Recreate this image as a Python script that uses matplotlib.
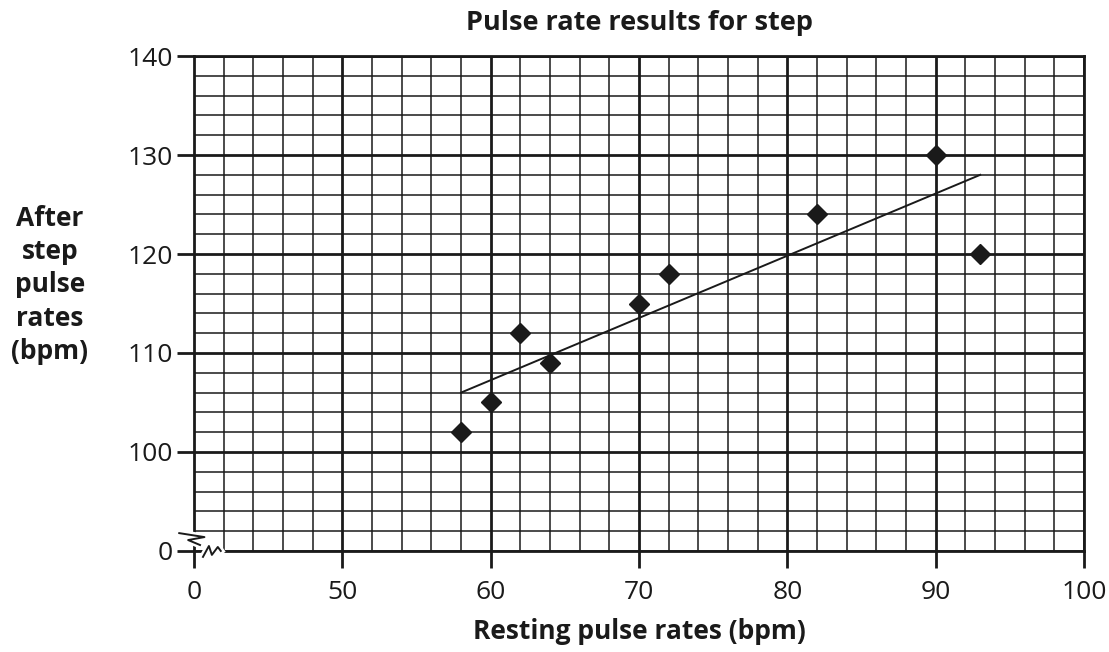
import numpy as np
import matplotlib
matplotlib.use("Agg")
import matplotlib.pyplot as plt

plt.rcParams["font.family"] = ["Open Sans", "DejaVu Sans"]

# data
resting = [58, 60, 62, 64, 70, 72, 82, 90, 93]
after_step = [102, 105, 112, 109, 115, 118, 124, 130, 120]
fit_x = [58, 93]
fit_y = [106, 128]

x_ticks = [0, 50, 60, 70, 80, 90, 100]
y_ticks = [0, 100, 110, 120, 130, 140]


# broken axes: 0-50 squeezed into one cell on x, 0-100 into one cell on y
def tx(x):
    x = np.asarray(x, dtype=float)
    return np.where(x >= 50, x, 40 + x / 5)


def ty(y):
    y = np.asarray(y, dtype=float)
    return np.where(y >= 100, y, 90 + y / 10)


fig = plt.figure(figsize=(11.09, 6.52), dpi=100)
ax = fig.add_axes([0.175, 0.155, 0.8025, 0.759])
ax.set_xlim(40, 100)
ax.set_ylim(90, 140)

# graph paper
ink = "#1a1a1a"
for v in np.arange(40, 100.1, 2):
    major = v >= 50 and v % 10 == 0
    ax.axvline(v, color=ink, lw=2.0 if major else 1.1, zorder=1)
for v in np.arange(90, 140.1, 2):
    major = v >= 100 and v % 10 == 0
    ax.axhline(v, color=ink, lw=2.0 if major else 1.1, zorder=1)

for s in ax.spines.values():
    s.set_linewidth(2.0)
    s.set_color(ink)

ax.set_xticks(tx(x_ticks))
ax.set_xticklabels([str(t) for t in x_ticks])
ax.set_yticks(ty(y_ticks))
ax.set_yticklabels([str(t) for t in y_ticks])
ax.tick_params(axis="both", length=12, width=2.0, color=ink, labelsize=19,
               labelcolor=ink, pad=3)
ax.tick_params(axis="x", pad=9)

# line of best fit and points
ax.plot(tx(fit_x), ty(fit_y), color=ink, lw=1.4, zorder=3)
ax.plot(tx(resting), ty(after_step), linestyle="none", marker="D",
        markersize=10, color=ink, zorder=4)

# axis break zigzags
zy_x = np.array([39.0, 40.7, 39.6, 40.4])
zy_y = np.array([91.8, 91.4, 91.1, 90.6])
ax.plot(zy_x, zy_y, color="white", lw=5, clip_on=False, zorder=5)
ax.plot(zy_x, zy_y, color=ink, lw=1.4, clip_on=False, zorder=6)
zx_x = np.array([40.6, 41.0, 41.2, 41.6, 41.8])
zx_y = np.array([89.4, 90.5, 89.6, 90.4, 90.0])
ax.plot(zx_x, zx_y, color="white", lw=5, clip_on=False, zorder=5)
ax.plot(zx_x, zx_y, color=ink, lw=1.4, clip_on=False, zorder=6)

ax.set_title("Pulse rate results for step", fontsize=19.5, fontweight="bold",
             color=ink, pad=19)
ax.set_xlabel("Resting pulse rates (bpm)", fontsize=19, fontweight="bold",
              color=ink, labelpad=9)
fig.text(0.045, 0.563, "After\nstep\npulse\nrates\n(bpm)", ha="center",
         va="center", fontsize=19, fontweight="bold", color=ink,
         linespacing=1.3)

fig.savefig("out.png", dpi=100)
